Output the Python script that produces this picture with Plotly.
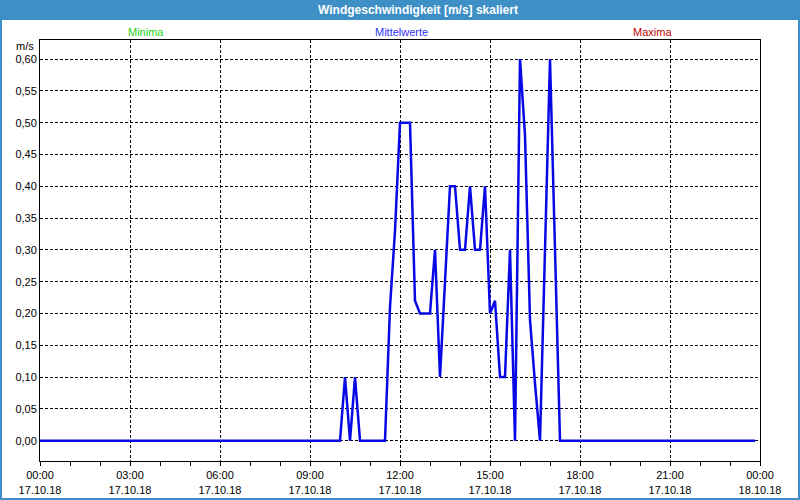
import plotly.graph_objects as go

# ---------------- data ----------------
day = "2018-10-17"
times = ["00:00", "10:00", "10:10", "10:20", "10:30", "10:40", "11:30", "11:40",
         "11:50", "12:00", "12:10", "12:20", "12:30", "12:40", "12:50", "13:00",
         "13:10", "13:20", "13:30", "13:40", "13:50", "14:00", "14:10", "14:20",
         "14:30", "14:40", "14:50", "15:00", "15:10", "15:20", "15:30", "15:40",
         "15:50", "16:00", "16:10", "16:20", "16:30", "16:40", "16:50", "17:00",
         "17:10", "17:20", "23:50"]
values = [0.00, 0.00, 0.10, 0.00, 0.10, 0.00, 0.00, 0.21,
          0.33, 0.50, 0.50, 0.50, 0.22, 0.20, 0.20, 0.20,
          0.30, 0.10, 0.25, 0.40, 0.40, 0.30, 0.30, 0.40,
          0.30, 0.30, 0.40, 0.20, 0.22, 0.10, 0.10, 0.30,
          0.00, 0.60, 0.48, 0.19, 0.09, 0.00, 0.30, 0.60,
          0.30, 0.00, 0.00]

tick_times = ["00:00", "03:00", "06:00", "09:00", "12:00", "15:00", "18:00", "21:00", "00:00"]
tick_dates = ["17.10.18"] * 8 + ["18.10.18"]
tick_stamps = ["2018-10-17 00:00", "2018-10-17 03:00", "2018-10-17 06:00", "2018-10-17 09:00",
               "2018-10-17 12:00", "2018-10-17 15:00", "2018-10-17 18:00", "2018-10-17 21:00",
               "2018-10-18 00:00"]
y_ticks = [0.00, 0.05, 0.10, 0.15, 0.20, 0.25, 0.30, 0.35, 0.40, 0.45, 0.50, 0.55, 0.60]

title_text = "Windgeschwindigkeit [m/s] skaliert"
legend_labels = ["Minima", "Mittelwerte", "Maxima"]
legend_colors = ["#19d219", "#3030ff", "#c00000"]
unit_label = "m/s"

# ---------------- layout geometry ----------------
W, H = 800, 500
L, R, T, B = 40, 760, 40, 461          # plot area in pixels


def px_x(x):
    return (x - L) / (R - L)


def px_y(y):
    return (B - y) / (B - T)


FRAME = "#3d8fc6"
FONT = "Liberation Sans"

x_vals = [f"{day} {t}" for t in times]

fig = go.Figure()
fig.add_trace(go.Scatter(
    x=x_vals, y=values, mode="lines",
    line=dict(color="#0808e6", width=2.5),
    hoverinfo="skip", showlegend=False,
))

fig.update_layout(
    width=W, height=H, autosize=False,
    margin=dict(l=L, r=W - R, t=T, b=H - B, pad=0, autoexpand=False),
    paper_bgcolor="white", plot_bgcolor="white",
    separators=",.",
    showlegend=False,
    font=dict(family=FONT, size=11, color="black"),
)

fig.update_xaxes(
    type="date", automargin=False,
    range=["2018-10-17 00:00", "2018-10-18 00:00"],
    tickmode="array", tickvals=tick_stamps,
    ticktext=[f"{a}<br>{b}" for a, b in zip(tick_times, tick_dates)],
    ticks="outside", ticklen=4, tickcolor="black", tickwidth=1,
    minor=dict(ticks="outside", ticklen=4, tickcolor="black", tickwidth=1,
               dtick=3600000, tick0="2018-10-17 00:00", showgrid=False),
    showgrid=True, gridcolor="black", gridwidth=1, griddash="3px,2px",
    showline=True, linecolor="black", linewidth=1, mirror=True,
    zeroline=False, fixedrange=True,
    tickfont=dict(family=FONT, size=11, color="black"),
)

fig.update_yaxes(
    range=[-0.032, 0.630], automargin=False,
    tickmode="array", tickvals=y_ticks, tickformat=".2f",
    ticks="", showgrid=True, gridcolor="black", gridwidth=1, griddash="3px,2px",
    showline=True, linecolor="black", linewidth=1, mirror=True,
    zeroline=False, fixedrange=True,
    tickfont=dict(family=FONT, size=11, color="black"),
)

# window frame: title bar + thin border
fig.add_shape(type="rect", xref="paper", yref="paper", layer="above",
              x0=px_x(0), x1=px_x(W), y0=px_y(20), y1=px_y(0),
              fillcolor=FRAME, line=dict(width=0))
fig.add_shape(type="rect", xref="paper", yref="paper", layer="above",
              x0=px_x(1), x1=px_x(W - 1), y0=px_y(H - 1), y1=px_y(1),
              fillcolor="rgba(0,0,0,0)", line=dict(color=FRAME, width=2))

fig.add_annotation(text=f"<b>{title_text}</b>", xref="paper", yref="paper",
                   x=px_x(418), y=px_y(10), xanchor="center", yanchor="middle",
                   showarrow=False, font=dict(family=FONT, size=12, color="white"))

for lab, col, cx in zip(legend_labels, legend_colors, [146, 401, 652]):
    fig.add_annotation(text=lab, xref="paper", yref="paper",
                       x=px_x(cx), y=px_y(32), xanchor="center", yanchor="middle",
                       showarrow=False, font=dict(family=FONT, size=11, color=col))

fig.add_annotation(text=unit_label, xref="paper", yref="paper",
                   x=px_x(36), y=px_y(46), xanchor="right", yanchor="middle",
                   showarrow=False, font=dict(family=FONT, size=11, color="black"))

fig.write_html("out.html", config=dict(displayModeBar=False, staticPlot=True))
